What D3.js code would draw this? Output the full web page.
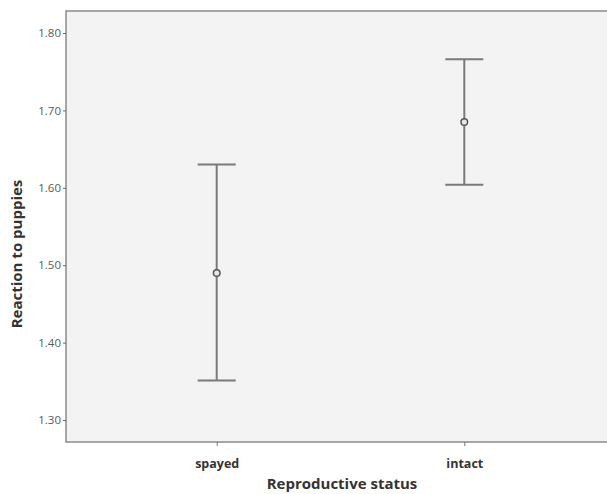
<!DOCTYPE html>
<html><head><meta charset="utf-8">
<script src="https://cdn.jsdelivr.net/npm/d3@7"></script>
<style>body{margin:0;background:#fff;overflow:hidden}svg{display:block}</style>
</head><body>
<script>
const categories = ["spayed", "intact"];
const means = [1.490, 1.685];
const lower = [1.351, 1.604];
const upper = [1.630, 1.766];
const yTicks = [1.30, 1.40, 1.50, 1.60, 1.70, 1.80];

const W = 607, H = 494;
const mL = 66, mT = 11, mB = 442, mR = 615;
const svg = d3.select("body").append("svg").attr("width", W).attr("height", H);

const x = d3.scalePoint().domain(categories).range([mL, mR]).padding(0.6087);
const y = d3.scaleLinear().domain([1.2716, 1.8284]).range([mB, mT]);

svg.append("rect").attr("x", mL).attr("y", mT).attr("width", 700).attr("height", mB - mT)
  .attr("fill", "#f3f3f3").attr("stroke", "#8a8a8a").attr("stroke-width", 1.5);

const yAxis = svg.append("g").attr("transform", `translate(${mL},0)`)
  .call(d3.axisLeft(y).tickValues(yTicks).tickFormat(d3.format(".2f")).tickSize(3).tickPadding(2));
yAxis.select(".domain").remove();
yAxis.selectAll("line").attr("stroke", "#666");
yAxis.selectAll("text").attr("fill", "#5a5a5a").style("font-family", "Open Sans, sans-serif").style("font-size", "11.5px");

const xAxis = svg.append("g").attr("transform", `translate(0,${mB})`)
  .call(d3.axisBottom(x).tickSize(4).tickPadding(13));
xAxis.select(".domain").remove();
xAxis.selectAll("line").attr("stroke", "#777");
xAxis.selectAll("text").attr("fill", "#333").style("font-family", "Open Sans, sans-serif")
  .style("font-size", "12.5px").style("font-weight", "bold");

const g = svg.append("g");
categories.forEach((c, i) => {
  const cx = x(c), cap = 19;
  g.append("line").attr("x1", cx).attr("x2", cx).attr("y1", y(upper[i])).attr("y2", y(lower[i]))
    .attr("stroke", "#7a7a7a").attr("stroke-width", 2);
  [upper[i], lower[i]].forEach(v => {
    g.append("line").attr("x1", cx - cap).attr("x2", cx + cap).attr("y1", y(v)).attr("y2", y(v))
      .attr("stroke", "#7a7a7a").attr("stroke-width", 2);
  });
  g.append("circle").attr("cx", cx).attr("cy", y(means[i])).attr("r", 3.3)
    .attr("fill", "#e8e8e8").attr("stroke", "#555").attr("stroke-width", 1.5);
});

svg.append("text").attr("transform", `translate(22,254) rotate(-90)`).attr("text-anchor", "middle")
  .style("font-family", "Open Sans, sans-serif").style("font-size", "15px").style("font-weight", "bold")
  .attr("fill", "#333").text("Reaction to puppies");
svg.append("text").attr("x", 342).attr("y", 489).attr("text-anchor", "middle")
  .style("font-family", "Open Sans, sans-serif").style("font-size", "15px").style("font-weight", "bold")
  .attr("fill", "#333").text("Reproductive status");
</script>
</body></html>
